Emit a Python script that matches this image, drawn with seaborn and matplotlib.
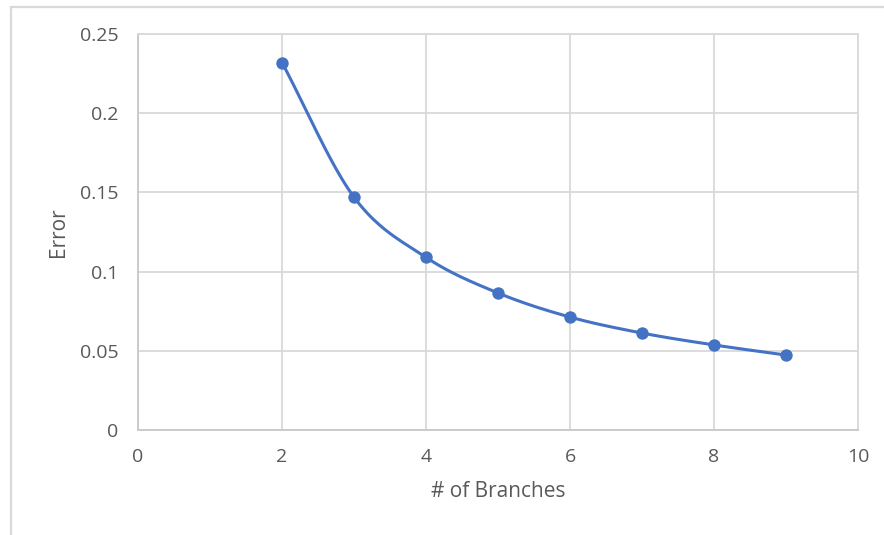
import numpy as np
import pandas as pd
import matplotlib
matplotlib.use("Agg")
import matplotlib.pyplot as plt
from matplotlib.patches import Rectangle
from matplotlib.ticker import FixedLocator
import seaborn as sns

branches = [2, 3, 4, 5, 6, 7, 8, 9]
error = [0.232, 0.147, 0.109, 0.0865, 0.0713, 0.0612, 0.0537, 0.0473]
x_ticks = [0, 2, 4, 6, 8, 10]
y_ticks = [0, 0.05, 0.1, 0.15, 0.2, 0.25]
y_tick_labels = ["0", "0.05", "0.1", "0.15", "0.2", "0.25"]

sns.set_theme(style="white")
plt.rcParams["font.family"] = ["Open Sans", "DejaVu Sans"]

BLUE = "#4472C4"
GRID = "#D9D9D9"
TXT = "#595959"


def catmull_rom(xs, ys, n=40):
    xs = np.asarray(xs, float)
    ys = np.asarray(ys, float)
    px = np.concatenate([[2 * xs[0] - xs[1]], xs, [2 * xs[-1] - xs[-2]]])
    py = np.concatenate([[2 * ys[0] - ys[1]], ys, [2 * ys[-1] - ys[-2]]])
    outx, outy = [], []
    t = np.linspace(0, 1, n, endpoint=False)
    for i in range(1, len(px) - 2):
        for arr, out in ((px, outx), (py, outy)):
            p0, p1, p2, p3 = arr[i - 1], arr[i], arr[i + 1], arr[i + 2]
            out.extend(0.5 * ((2 * p1) + (-p0 + p2) * t
                              + (2 * p0 - 5 * p1 + 4 * p2 - p3) * t ** 2
                              + (-p0 + 3 * p1 - 3 * p2 + p3) * t ** 3))
    outx.append(xs[-1])
    outy.append(ys[-1])
    return np.array(outx), np.array(outy)


df = pd.DataFrame({"branches": branches, "error": error})
sx, sy = catmull_rom(branches, error)
smooth = pd.DataFrame({"x": sx, "y": sy})

fig = plt.figure(figsize=(8.84, 5.35), dpi=100)
ax = fig.add_axes([138 / 884, 1 - 430 / 535, 720 / 884, 396 / 535])

sns.lineplot(data=smooth, x="x", y="y", ax=ax, color=BLUE, linewidth=2.2,
             sort=False, estimator=None, zorder=3)
sns.scatterplot(data=df, x="branches", y="error", ax=ax, color=BLUE, s=80,
                edgecolor=BLUE, linewidth=0, zorder=4)

ax.set_xlim(0, 10)
ax.set_ylim(0, 0.25)
ax.xaxis.set_major_locator(FixedLocator(x_ticks))
ax.yaxis.set_major_locator(FixedLocator(y_ticks))
ax.set_yticklabels(y_tick_labels)
ax.grid(True, color=GRID, linewidth=1.3)
ax.set_axisbelow(True)
for side, sp in ax.spines.items():
    sp.set_visible(True)
    sp.set_color(GRID)
    sp.set_linewidth(1.3)
ax.spines["left"].set_color("#C8C8C8")
ax.spines["bottom"].set_color("#C8C8C8")
ax.tick_params(axis="both", length=0, labelsize=14, labelcolor=TXT)
ax.tick_params(axis="y", pad=14)
ax.tick_params(axis="x", pad=13)
ax.set_xlabel("# of Branches", fontsize=15, color=TXT, labelpad=11)
ax.set_ylabel("Error", fontsize=15, color=TXT, labelpad=8)

fig.add_artist(Rectangle((10.5 / 884, -0.1), 1.2, 1.1 - 7.5 / 535,
                         transform=fig.transFigure, fill=False,
                         edgecolor=GRID, linewidth=1.6))

fig.savefig("out.png", dpi=100)
